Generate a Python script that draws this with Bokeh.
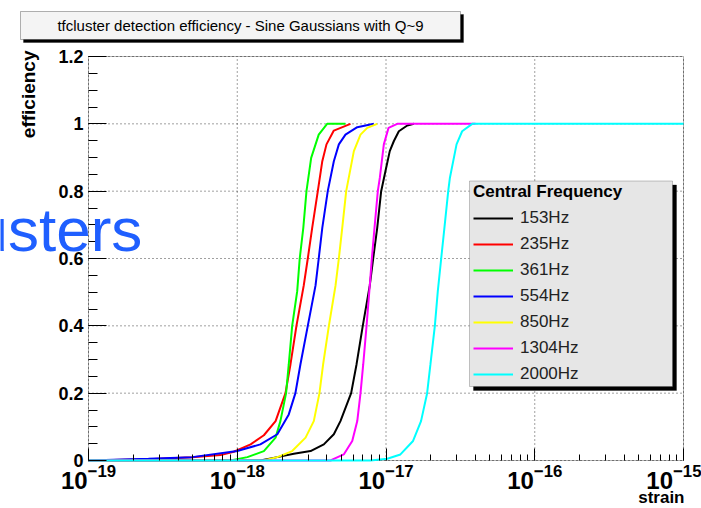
import math
from bokeh.plotting import figure
from bokeh.models import (Label, BoxAnnotation, Legend, LegendItem, FixedTicker,
                          LogTickFormatter, Range1d)
from bokeh.embed import file_html
from bokeh.resources import INLINE

FONT = "Liberation Sans"

title_text = "tfcluster detection efficiency - Sine Gaussians with Q~9"
legend_title = "Central Frequency"
x_title = "strain"
y_title = "efficiency"
overlay_text = "usters"
freq_labels = ["153Hz", "235Hz", "361Hz", "554Hz", "850Hz", "1304Hz", "2000Hz"]
colors = ["#000000", "#ff0000", "#00ff00", "#0000ff", "#ffff00", "#ff00ff", "#00ffff"]

strain_153 = [1e-19, 1.43e-18, 1.86e-18, 2.40e-18, 3.11e-18, 3.82e-18, 4.46e-18, 4.94e-18,
              5.83e-18, 6.34e-18, 6.98e-18, 7.78e-18, 8.20e-18, 8.73e-18, 9.28e-18, 9.92e-18,
              1.06e-17, 1.13e-17, 1.22e-17, 1.39e-17, 1.54e-17]
eff_153 = [0, 0, 0.01, 0.02, 0.028, 0.048, 0.078, 0.117, 0.2, 0.286, 0.4, 0.52, 0.6, 0.691,
           0.8, 0.86, 0.919, 0.949, 0.978, 0.995, 1.0]

strain_235 = [1e-19, 2.53e-19, 4.98e-19, 7.72e-19, 9.48e-19, 1.23e-18, 1.51e-18, 1.81e-18,
              2.11e-18, 2.28e-18, 2.50e-18, 2.80e-18, 2.98e-18, 3.19e-18, 3.48e-18, 3.73e-18,
              3.98e-18, 4.46e-18, 5.77e-18]
eff_235 = [0, 0.004, 0.01, 0.016, 0.026, 0.048, 0.075, 0.117, 0.2, 0.286, 0.4, 0.52, 0.6,
           0.691, 0.8, 0.889, 0.939, 0.98, 1.0]

strain_361 = [1e-19, 9.01e-19, 1.17e-18, 1.51e-18, 1.81e-18, 1.95e-18, 2.13e-18, 2.22e-18,
              2.34e-18, 2.53e-18, 2.63e-18, 2.78e-18, 2.92e-18, 3.14e-18, 3.53e-18, 4.02e-18,
              5.34e-18]
eff_361 = [0, 0, 0.01, 0.028, 0.068, 0.117, 0.2, 0.286, 0.4, 0.503, 0.6, 0.691, 0.8, 0.899,
           0.968, 1.0, 1.0]

strain_554 = [1e-19, 2.53e-19, 4.98e-19, 1.0e-18, 1.43e-18, 1.86e-18, 2.22e-18, 2.46e-18,
              2.66e-18, 2.98e-18, 3.36e-18, 3.53e-18, 3.73e-18, 4.06e-18, 4.46e-18, 4.82e-18,
              5.34e-18, 6.41e-18, 8.28e-18]
eff_554 = [0, 0.005, 0.01, 0.028, 0.048, 0.078, 0.137, 0.2, 0.286, 0.4, 0.52, 0.6, 0.691,
           0.8, 0.889, 0.939, 0.968, 0.99, 1.0]

strain_850 = [1e-19, 1.50e-18, 1.86e-18, 2.34e-18, 2.88e-18, 3.27e-18, 3.57e-18, 3.78e-18,
              4.13e-18, 4.58e-18, 4.82e-18, 5.08e-18, 5.40e-18, 6.08e-18, 6.74e-18, 7.48e-18,
              8.73e-18]
eff_850 = [0, 0, 0.01, 0.028, 0.068, 0.117, 0.2, 0.286, 0.4, 0.52, 0.6, 0.691, 0.8, 0.919,
           0.968, 0.988, 1.0]

strain_1304 = [1e-19, 4.24e-18, 4.46e-18, 5.20e-18, 5.93e-18, 6.41e-18, 6.74e-18, 7.03e-18,
               7.40e-18, 7.78e-18, 8.03e-18, 8.37e-18, 8.81e-18, 9.09e-18, 9.67e-18, 1.04e-17,
               1.19e-17, 4.0e-17]
eff_1304 = [0, 0, 0.005, 0.018, 0.058, 0.117, 0.2, 0.286, 0.4, 0.52, 0.6, 0.691, 0.8, 0.84,
            0.939, 0.988, 1.0, 1.0]

strain_2000 = [1e-19, 7.87e-18, 1.02e-17, 1.25e-17, 1.52e-17, 1.72e-17, 1.89e-17, 1.99e-17,
               2.13e-17, 2.23e-17, 2.35e-17, 2.47e-17, 2.62e-17, 2.69e-17, 2.98e-17, 3.25e-17,
               3.80e-17, 1e-15]
eff_2000 = [0, 0, 0.005, 0.018, 0.058, 0.117, 0.2, 0.286, 0.4, 0.503, 0.6, 0.691, 0.8, 0.84,
            0.939, 0.978, 1.0, 1.0]

x_ticks = [1e-19, 1e-18, 1e-17, 1e-16, 1e-15]
y_ticks = [0, 0.2, 0.4, 0.6, 0.8, 1, 1.2]
y_tick_labels = ["0", "0.2", "0.4", "0.6", "0.8", "1", "1.2"]

series = [(strain_153, eff_153), (strain_235, eff_235), (strain_361, eff_361),
          (strain_554, eff_554), (strain_850, eff_850), (strain_1304, eff_1304),
          (strain_2000, eff_2000)]

# ---- layout (page pixels) ----
W, H = 701, 508
BOX_L, BOX_R, BOX_T, BOX_B = 88, 683, 56, 460   # where the data box sits

lx0, lx1 = math.log10(x_ticks[0]), math.log10(x_ticks[-1])
ppd = (BOX_R - BOX_L) / (lx1 - lx0)
x_start = 10 ** (lx0 - BOX_L / ppd)
x_end = 10 ** (lx1 + (W - BOX_R) / ppd)
y0, y1 = y_ticks[0], y_ticks[-1]
ppu = (BOX_B - BOX_T) / (y1 - y0)
y_start = y0 - (H - BOX_B) / ppu
y_end = y1 + BOX_T / ppu

p = figure(width=W, height=H, x_axis_type="log",
           x_range=Range1d(x_start, x_end), y_range=Range1d(y_start, y_end),
           output_backend="svg", toolbar_location=None, title=None)
p.min_border = 0
p.min_border_left = 0
p.min_border_right = 0
p.min_border_top = 0
p.min_border_bottom = 0
p.background_fill_color = "white"
p.border_fill_color = "white"
p.outline_line_color = None
p.xgrid.visible = False
p.ygrid.visible = False


def S(py):
    """page y (down) -> screen y measured up from the frame bottom"""
    return H - py


# data box outline
p.add_layout(BoxAnnotation(left=x_ticks[0], right=x_ticks[-1], bottom=y0, top=y1,
                           fill_alpha=0, line_color="black", line_width=1, level="underlay"))

# dotted grid at major ticks
p.segment(x0=x_ticks, y0=[y0] * len(x_ticks), x1=x_ticks, y1=[y1] * len(x_ticks),
          line_color="black", line_dash="1 3", line_width=1, line_alpha=0.75)
p.segment(x0=[x_ticks[0]] * len(y_ticks), y0=y_ticks, x1=[x_ticks[-1]] * len(y_ticks),
          y1=y_ticks, line_color="black", line_dash="1 3", line_width=1, line_alpha=0.75)

# axes pinned to the data box
minor_x = [m * 10.0 ** e for e in range(int(lx0), int(lx1)) for m in range(2, 10)]
xa = p.xaxis[0]
xa.ticker = FixedTicker(ticks=x_ticks, minor_ticks=minor_x)
xa.formatter = LogTickFormatter()
xa.fixed_location = y0
xa.bounds = (x_ticks[0], x_ticks[-1])
ya = p.yaxis[0]
minor_y = [round(i * 0.05, 2) for i in range(25)]
ya.ticker = FixedTicker(ticks=y_ticks, minor_ticks=minor_y)
ya.major_label_overrides = {t: s for t, s in zip(y_ticks, y_tick_labels)}
ya.fixed_location = x_ticks[0]
ya.bounds = (y0, y1)

for ax in (xa, ya):
    ax.axis_line_color = None
    ax.major_tick_line_color = "black"
    ax.minor_tick_line_color = "black"
    ax.major_tick_out = 0
    ax.minor_tick_out = 0
    ax.major_label_text_font = FONT
    ax.major_label_text_font_style = "bold"
    ax.major_label_text_color = "black"
ya.major_tick_in = 18
ya.minor_tick_in = 9
xa.major_tick_in = 12
xa.minor_tick_in = 6
ya.major_label_text_font_size = "18px"
ya.major_label_standoff = 5
xa.major_label_text_font_size = "24px"
xa.major_label_standoff = 3

renderers = []
for (xs, ys), c in zip(series, colors):
    renderers.append(p.line(xs, ys, line_color=c, line_width=2))

# legend box with shadow
p.add_layout(BoxAnnotation(left=473, right=676, top=S(184.5), bottom=S(390),
                           left_units="screen", right_units="screen",
                           top_units="screen", bottom_units="screen",
                           fill_color="black", fill_alpha=1, line_color="black"))
p.add_layout(BoxAnnotation(left=469, right=672, top=S(180.5), bottom=S(386),
                           left_units="screen", right_units="screen",
                           top_units="screen", bottom_units="screen",
                           fill_color="#e6e6e6", fill_alpha=1, line_color="#444444",
                           line_width=1))

legend = Legend(items=[LegendItem(label=l, renderers=[r]) for l, r in zip(freq_labels, renderers)],
                location=(469, S(388)), title=legend_title)
legend.title_text_font = FONT
legend.title_text_font_size = "17px"
legend.title_text_font_style = "bold"
legend.title_text_color = "black"
legend.title_standoff = 6
legend.label_text_font = FONT
legend.label_text_font_size = "17px"
legend.label_text_color = "#222222"
legend.glyph_width = 40
legend.glyph_height = 20
legend.label_height = 20
legend.label_standoff = 7
legend.spacing = 6
legend.padding = 4
legend.margin = 0
legend.background_fill_alpha = 0
legend.border_line_alpha = 0
p.add_layout(legend, "center")

# title box with shadow
p.add_layout(BoxAnnotation(left=23, right=463, top=S(14), bottom=S(42),
                           left_units="screen", right_units="screen",
                           top_units="screen", bottom_units="screen",
                           fill_color="black", fill_alpha=1, line_color="black"))
p.add_layout(BoxAnnotation(left=20, right=460, top=S(11), bottom=S(39),
                           left_units="screen", right_units="screen",
                           top_units="screen", bottom_units="screen",
                           fill_color="#f4f4f4", fill_alpha=1, line_color="black",
                           line_width=1))
p.add_layout(Label(x=240, y=S(25), x_units="screen", y_units="screen", text=title_text,
                   text_align="center", text_baseline="middle", text_font=FONT,
                   text_font_size="15px", text_color="black"))

# axis titles
p.add_layout(Label(x=28, y=S(50), x_units="screen", y_units="screen", text=y_title,
                   angle=math.pi / 2, text_align="right", text_baseline="middle",
                   text_font=FONT, text_font_size="19px", text_font_style="bold",
                   text_color="black"))
p.add_layout(Label(x=684, y=S(497), x_units="screen", y_units="screen", text=x_title,
                   text_align="right", text_baseline="middle",
                   text_font=FONT, text_font_size="17px", text_font_style="bold",
                   text_color="black"))

# overlapping slide text
p.add_layout(Label(x=-27, y=S(229), x_units="screen", y_units="screen", text=overlay_text,
                   text_align="left", text_baseline="alphabetic",
                   text_font=FONT, text_font_size="62px", text_color="#1f5fff"))

open("out.html", "w").write(file_html(p, INLINE))
